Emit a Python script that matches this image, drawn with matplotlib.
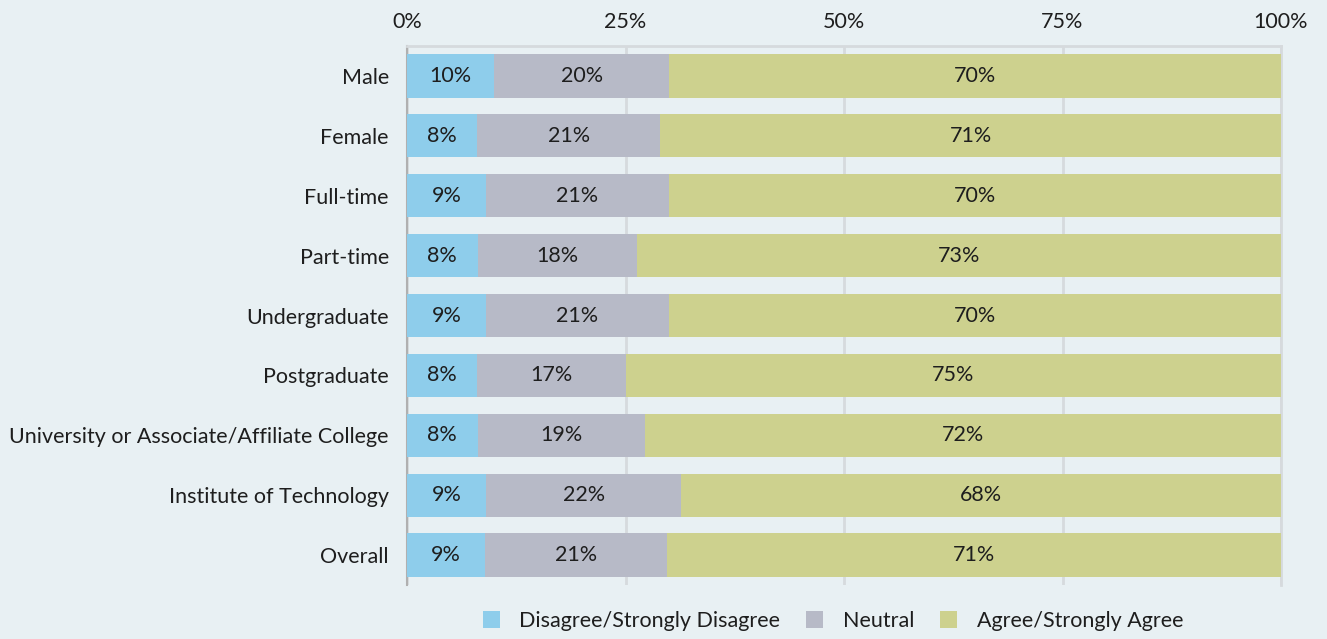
import matplotlib
matplotlib.use("Agg")
import matplotlib.pyplot as plt
import numpy as np
from matplotlib.patches import Patch

categories = ["Male", "Female", "Full-time", "Part-time", "Undergraduate", "Postgraduate",
              "University or Associate/Affiliate College", "Institute of Technology", "Overall"]
disagree = [10, 8, 9, 8, 9, 8, 8, 9, 9]
neutral = [20, 21, 21, 18, 21, 17, 19, 22, 21]
agree = [70, 71, 70, 73, 70, 75, 72, 68, 71]
series_names = ["Disagree/Strongly Disagree", "Neutral", "Agree/Strongly Agree"]
tick_values = [0, 25, 50, 75, 100]
tick_labels = ["0%", "25%", "50%", "75%", "100%"]

colors = ["#8ecdeb", "#b7bac7", "#cdd18e"]
bg = "#e8f0f3"
txt = "#1e1e1e"
plt.rcParams['font.family'] = ['Lato', 'DejaVu Sans']

fig = plt.figure(figsize=(13.27, 6.39), dpi=100, facecolor=bg)
ax = fig.add_axes([407/1327, 1-585/639, (1281-407)/1327, (585-46)/639])
ax.set_facecolor(bg)

vals = np.array([disagree, neutral, agree], dtype=float)
totals = vals.sum(axis=0)
norm = vals / totals * 100
y = np.arange(len(categories))
left = np.zeros(len(categories))
for i in range(3):
    ax.barh(y, norm[i], left=left, height=0.72, color=colors[i], zorder=3)
    for j in range(len(categories)):
        ax.text(left[j] + norm[i][j]/2, y[j], f"{int(vals[i][j])}%", ha='center', va='center',
                fontsize=15.5, color=txt, zorder=4)
    left += norm[i]

ax.set_xlim(0, 100)
ax.set_ylim(8.5, -0.5)
ax.set_yticks(y)
ax.set_yticklabels(categories, fontsize=15.5, color=txt)
ax.set_xticks(tick_values)
ax.set_xticklabels(tick_labels, fontsize=15.5, color=txt)
ax.xaxis.tick_top()
ax.tick_params(axis='x', length=0, pad=10)
ax.tick_params(axis='y', length=0, pad=13)
ax.xaxis.grid(True, color='#d6dadd', linewidth=2, zorder=0)
for s in ['top', 'right']:
    ax.spines[s].set_color('#d6dadd')
    ax.spines[s].set_linewidth(2)
ax.spines['bottom'].set_visible(False)
ax.spines['left'].set_color('#b0b0b0')
ax.spines['left'].set_linewidth(1.5)

handles = [Patch(facecolor=c, edgecolor='none') for c in colors]
fig.legend(handles, series_names, loc='center', bbox_to_anchor=(833/1327, 1-621/639), ncol=3,
           frameon=False, fontsize=15.5, handlelength=0.8, handleheight=0.8, columnspacing=1.2,
           handletextpad=0.9, labelcolor=txt)

fig.savefig("out.png", dpi=100, facecolor=bg)
